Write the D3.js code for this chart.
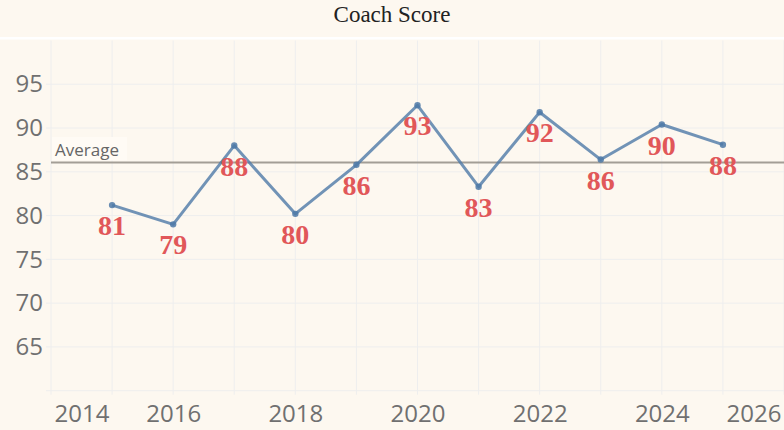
<!DOCTYPE html>
<html>
<head>
<meta charset="utf-8">
<script src="https://cdn.jsdelivr.net/npm/d3@7"></script>
<style>
  html, body { margin: 0; padding: 0; background: #fdf8f0; }
  svg { display: block; }
</style>
</head>
<body>
<div id="chart"></div>
<script>
// data
var years = [2015, 2016, 2017, 2018, 2019, 2020, 2021, 2022, 2023, 2024, 2025];
var scores = [81.2, 79.0, 88.0, 80.2, 85.8, 92.6, 83.3, 91.8, 86.4, 90.4, 88.1];
var xTickLabels = [2014, 2016, 2018, 2020, 2022, 2024, 2026];
var yTickLabels = [65, 70, 75, 80, 85, 90, 95];

var width = 784,
	height = 430,
	margin = {top: 40.5, right: 0, bottom: 39.3, left: 51};

var svg = d3.select("#chart")
	.append("svg")
	.attr("width", width)
	.attr("height", height);

svg.append("rect")
	.attr("width", width)
	.attr("height", height)
	.attr("fill", "#fdf8f0");

var x = d3.scaleLinear()
	.domain([2014, 2026])
	.range([margin.left, width - margin.right]);

var y = d3.scaleLinear()
	.domain([60, 100])
	.range([height - margin.bottom, margin.top]);

// title
svg.append("text")
	.text("Coach Score")
	.attr("x", width / 2)
	.attr("y", 22)
	.attr("text-anchor", "middle")
	.style("font", "23px 'Liberation Serif', 'Times New Roman', serif")
	.style("fill", "#222");

// white separator under title
svg.append("rect")
	.attr("x", 0)
	.attr("y", 37)
	.attr("width", width)
	.attr("height", 2.5)
	.attr("fill", "#ffffff");

// gridlines
svg.append("g")
	.selectAll("line")
	.data(d3.range(2014, 2027))
	.join("line")
	.attr("x1", d => x(d)).attr("x2", d => x(d))
	.attr("y1", y(100)).attr("y2", y(60) + 4)
	.attr("stroke", "#eeeeee")
	.attr("stroke-width", 1);

svg.append("g")
	.selectAll("line")
	.data(d3.range(60, 100, 5))
	.join("line")
	.attr("x1", margin.left - 5).attr("x2", width)
	.attr("y1", d => y(d)).attr("y2", d => y(d))
	.attr("stroke", "#eeeeee")
	.attr("stroke-width", 1);

// axes
var xAxis = d3.axisBottom(x)
	.tickValues(xTickLabels)
	.tickFormat(d3.format("d"))
	.tickSize(0)
	.tickPadding(14);

var gx = svg.append("g")
	.attr("transform", "translate(0," + y(60) + ")")
	.call(xAxis);
gx.select(".domain").remove();
gx.selectAll("text")
	.style("font", "24px 'Open Sans', sans-serif")
	.style("fill", "#707070");
// keep the edge labels inside the view, as the reference does
gx.selectAll(".tick").filter(d => d === 2014).select("text")
	.attr("text-anchor", "start").attr("x", 3);
gx.selectAll(".tick").filter(d => d === 2026).select("text")
	.attr("text-anchor", "end").attr("x", -3);

var yAxis = d3.axisLeft(y)
	.tickValues(yTickLabels)
	.tickSize(0)
	.tickPadding(8);

var gy = svg.append("g")
	.attr("transform", "translate(" + margin.left + ",0)")
	.call(yAxis);
gy.select(".domain").remove();
gy.selectAll("text")
	.style("font", "24px 'Open Sans', sans-serif")
	.style("fill", "#707070");

// average reference line
var avg = d3.mean(scores);

svg.append("rect")
	.attr("x", 52)
	.attr("y", 137)
	.attr("width", 75)
	.attr("height", y(avg) - 139)
	.attr("fill", "#fffbf5");

svg.append("line")
	.attr("x1", margin.left).attr("x2", width)
	.attr("y1", y(avg)).attr("y2", y(avg))
	.attr("stroke", "#a39e96")
	.attr("stroke-width", 2);

svg.append("text")
	.text("Average")
	.attr("x", 55)
	.attr("y", y(avg) - 6)
	.style("font", "17px 'Open Sans', sans-serif")
	.style("fill", "#666");

// score line
var line = d3.line()
	.x((d, i) => x(years[i]))
	.y(d => y(d));

svg.append("path")
	.datum(scores)
	.attr("d", line)
	.attr("fill", "none")
	.attr("stroke", "#4e79a7")
	.attr("stroke-opacity", 0.8)
	.attr("stroke-width", 3)
	.attr("stroke-linejoin", "round");

svg.append("g")
	.selectAll("circle")
	.data(scores)
	.join("circle")
	.attr("cx", (d, i) => x(years[i]))
	.attr("cy", d => y(d))
	.attr("r", 3.2)
	.attr("fill", "#4e79a7")
	.attr("fill-opacity", 0.85);

// value labels
svg.append("g")
	.selectAll("text")
	.data(scores)
	.join("text")
	.text(d => Math.round(d))
	.attr("x", (d, i) => x(years[i]))
	.attr("y", d => y(d) + 30)
	.attr("text-anchor", "middle")
	.style("font", "bold 28px 'Liberation Serif', 'Times New Roman', serif")
	.style("fill", "#e15759");
</script>
</body>
</html>
